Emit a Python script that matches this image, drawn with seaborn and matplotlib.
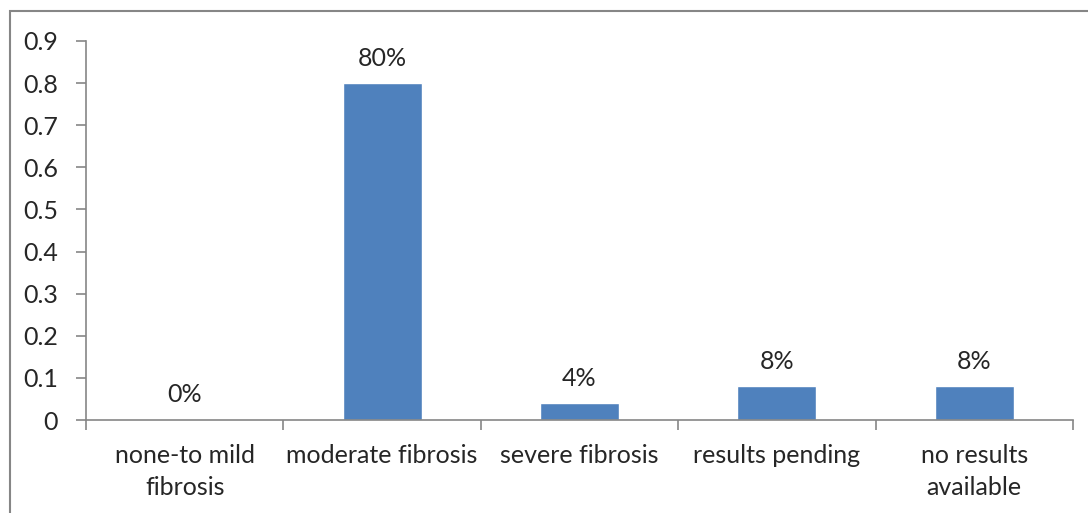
import matplotlib
matplotlib.use("Agg")
import matplotlib.pyplot as plt
import seaborn as sns
import pandas as pd
from matplotlib.patches import Rectangle

categories = ["none-to mild\nfibrosis", "moderate fibrosis", "severe fibrosis", "results pending", "no results\navailable"]
values = [0.0, 0.80, 0.04, 0.08, 0.08]
labels = ["0%", "80%", "4%", "8%", "8%"]
yticks = [0, 0.1, 0.2, 0.3, 0.4, 0.5, 0.6, 0.7, 0.8, 0.9]
ytick_labels = ["0", "0.1", "0.2", "0.3", "0.4", "0.5", "0.6", "0.7", "0.8", "0.9"]

sns.set_theme(style="white")
plt.rcParams['font.family'] = ['Lato', 'DejaVu Sans']
FS = 18

df = pd.DataFrame({"cat": categories, "val": values})
fig = plt.figure(figsize=(10.88, 5.13), dpi=100)
ax = fig.add_axes([86/1088, 1 - 420/513, (1073-86)/1088, (420-41)/513])

sns.barplot(data=df, x="cat", y="val", color="#4F81BD", width=0.4, saturation=1, ax=ax)

ax.set_ylim(0, 0.9)
ax.set_xlim(-0.5, len(categories) - 0.5)
ax.set_yticks(yticks)
ax.set_yticklabels(ytick_labels, fontsize=FS)
ax.set_xlabel("")
ax.set_ylabel("")
ax.set_xticks(range(len(categories)))
ax.set_xticklabels(categories, fontsize=FS, linespacing=1.5)
ax.tick_params(axis='x', length=0, pad=17)
ax.set_xticks([i - 0.5 for i in range(len(categories) + 1)], minor=True)
ax.tick_params(axis='x', which='minor', length=7, color="#868686", width=1.2, direction='out', bottom=True)
ax.tick_params(axis='y', length=7, color="#868686", width=1.2, direction='out', left=True, pad=13)

for s in ["top", "right"]:
    ax.spines[s].set_visible(False)
for s in ["left", "bottom"]:
    ax.spines[s].set_color("#868686")
    ax.spines[s].set_linewidth(1.2)

for i, (v, lab) in enumerate(zip(values, labels)):
    ax.annotate(lab, (i, v), xytext=(0, 18), textcoords="offset points",
                ha="center", va="center", fontsize=FS)

fig.patches.append(Rectangle((10/1088, -0.1), 1.2, 1 - 11/513 + 0.1, transform=fig.transFigure,
                             fill=False, edgecolor="#868686", linewidth=1.5))

fig.savefig("out.png", dpi=100)
